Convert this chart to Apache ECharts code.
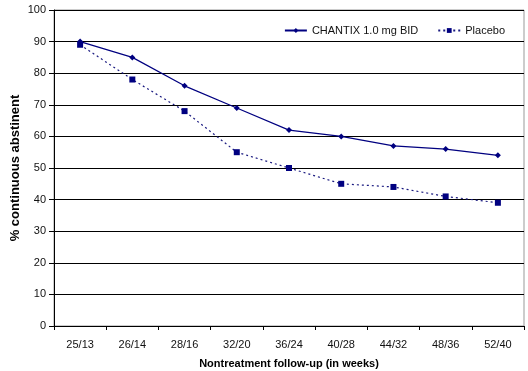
<!DOCTYPE html>
<html><head><meta charset="utf-8">
<script src="https://cdn.jsdelivr.net/npm/echarts@6/dist/echarts.min.js"></script>
<style>html,body{margin:0;padding:0;background:#fff}#c{width:528px;height:371px}</style>
</head><body><div id="c"></div>
<script>
const categories = ['25/13','26/14','28/16','32/20','36/24','40/28','44/32','48/36','52/40'];
const chantix = [90, 85, 76, 69, 62, 60, 57, 56, 54];
const placebo = [89, 78, 68, 55, 50, 45, 44, 41, 39];
const yTicks = {min: 0, max: 100, interval: 10};

const chart = echarts.init(document.getElementById('c'));
const font = 'Liberation Sans, Arial, sans-serif';
chart.setOption({
  animation: false,
  backgroundColor: '#fff',
  grid: {left: 54, right: 4, top: 10, bottom: 45, show: true, borderColor: '#999', borderWidth: 1,
         outerBoundsMode: 'none', containLabel: false},
  legend: {
    right: 18, top: 20, itemGap: 19, itemWidth: 22, itemHeight: 6,
    textStyle: {fontFamily: font, fontSize: 11, color: '#111'},
    data: ['CHANTIX 1.0 mg BID', 'Placebo']
  },
  xAxis: {
    type: 'category', data: categories, boundaryGap: true,
    name: 'Nontreatment follow-up (in weeks)', nameLocation: 'middle', nameGap: 32,
    nameTextStyle: {fontFamily: font, fontSize: 11, fontWeight: 'bold', color: '#000'},
    axisLine: {lineStyle: {color: '#000', width: 1}},
    axisTick: {show: true, length: 4, lineStyle: {color: '#000'}},
    axisLabel: {fontFamily: font, fontSize: 11, color: '#111', margin: 13}
  },
  yAxis: {
    type: 'value', min: yTicks.min, max: yTicks.max, interval: yTicks.interval,
    name: '% continuous abstinent', nameLocation: 'middle', nameGap: 32, nameRotate: 90,
    nameMoveOverlap: false,
    nameTextStyle: {fontFamily: font, fontSize: 13, fontWeight: 'bold', color: '#000'},
    axisLine: {show: true, lineStyle: {color: '#000', width: 1}},
    axisTick: {show: true, length: 5, lineStyle: {color: '#000'}},
    axisLabel: {fontFamily: font, fontSize: 11, color: '#111', margin: 8},
    splitLine: {show: true, lineStyle: {color: '#000', width: 1}}
  },
  series: [
    {
      name: 'CHANTIX 1.0 mg BID', type: 'line', data: chantix,
      symbol: 'diamond', symbolSize: 6,
      itemStyle: {color: '#000080'},
      lineStyle: {color: '#000080', width: 1.2, type: 'solid'}
    },
    {
      name: 'Placebo', type: 'line', data: placebo,
      symbol: 'rect', symbolSize: 6,
      itemStyle: {color: '#000080'},
      lineStyle: {color: '#1a1a80', width: 1.2, type: [2, 3]}
    }
  ]
});
</script></body></html>
